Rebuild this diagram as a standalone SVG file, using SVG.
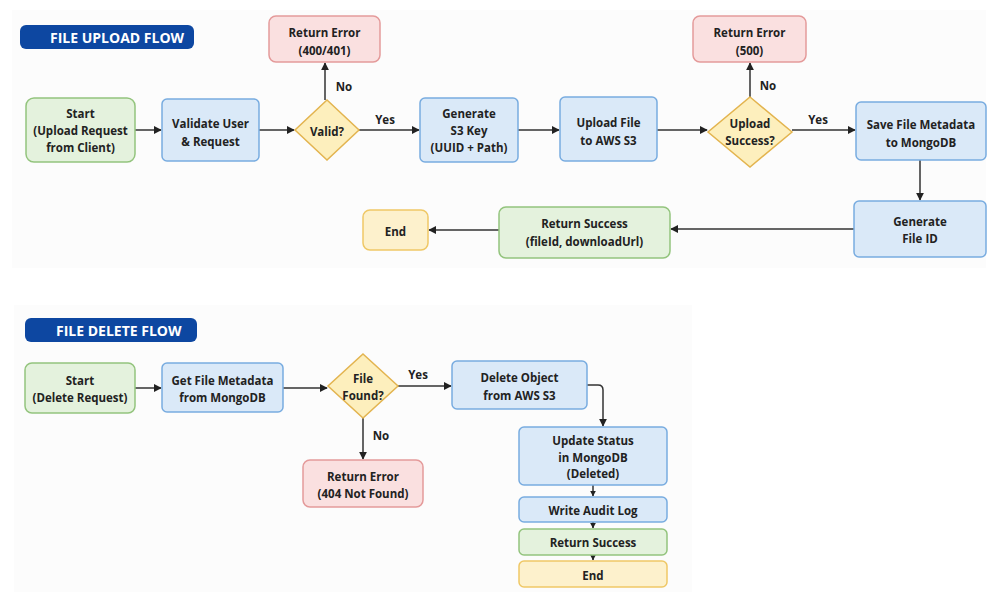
<svg xmlns="http://www.w3.org/2000/svg" width="989" height="592" viewBox="0 0 989 592">
<defs>
<marker id="ah" viewBox="0 0 10 10" refX="9" refY="5" markerWidth="8" markerHeight="8" markerUnits="userSpaceOnUse" orient="auto"><path d="M0,0 L10,5 L0,10 z" fill="#222"/></marker>
<marker id="ahs" viewBox="0 0 10 10" refX="9" refY="5" markerWidth="6" markerHeight="6" markerUnits="userSpaceOnUse" orient="auto"><path d="M0,0 L10,5 L0,10 z" fill="#222"/></marker>
</defs>
<style>
text{font-family:"Open Sans","Liberation Sans",sans-serif;font-weight:700;font-size:11.5px;fill:#222;text-anchor:middle;dominant-baseline:central}
.title{fill:#fff;font-size:14px;text-anchor:start}
.pill{fill:#0d47a1}
.green{fill:#e4f2dd;stroke:#93c47d;stroke-width:1.5}
.blue{fill:#dae9f8;stroke:#78ace0;stroke-width:1.5}
.red{fill:#fae0e0;stroke:#e49a9a;stroke-width:1.5}
.yellow{fill:#fdefbd;stroke:#e3b44f;stroke-width:1.5}
.end{fill:#fdf1cc;stroke:#efc866;stroke-width:1.5}
.lbl{font-size:11.5px}
#connectors path,#connectors line{stroke:#333;stroke-width:1.5;fill:none}
</style>
<rect width="989" height="592" fill="#fff"/>
<rect x="12" y="10" width="974" height="258" fill="#fcfcfc"/>
<rect x="14" y="305" width="678" height="287" fill="#fcfcfc"/>

<g id="title-upload"><rect class="pill" x="20" y="25" width="174" height="24" rx="6"/><text class="title" x="50" y="37.5">FILE UPLOAD FLOW</text></g>
<g id="title-delete"><rect class="pill" x="25" y="318" width="172" height="24" rx="6"/><text class="title" x="56" y="330.5">FILE DELETE FLOW</text></g>

<g id="connectors">
<line x1="135" y1="130" x2="161" y2="130" marker-end="url(#ah)"/>
<line x1="259" y1="130" x2="294" y2="130" marker-end="url(#ah)"/>
<line x1="325" y1="100" x2="325" y2="63" marker-end="url(#ah)"/>
<line x1="359" y1="130" x2="419" y2="130" marker-end="url(#ah)"/>
<line x1="518" y1="130" x2="559" y2="130" marker-end="url(#ah)"/>
<line x1="657" y1="130" x2="707" y2="130" marker-end="url(#ah)"/>
<line x1="750" y1="97" x2="750" y2="63" marker-end="url(#ah)"/>
<line x1="792" y1="130" x2="855" y2="130" marker-end="url(#ah)"/>
<line x1="920" y1="160" x2="920" y2="200" marker-end="url(#ah)"/>
<line x1="854" y1="229" x2="671" y2="229" marker-end="url(#ah)"/>
<line x1="499" y1="230" x2="429" y2="230" marker-end="url(#ah)"/>
<line x1="135" y1="388" x2="161" y2="388" marker-end="url(#ah)"/>
<line x1="283" y1="388" x2="327" y2="388" marker-end="url(#ah)"/>
<line x1="398" y1="386" x2="451" y2="386" marker-end="url(#ah)"/>
<line x1="363" y1="418" x2="363" y2="459" marker-end="url(#ah)"/>
<path d="M587,385 H598 Q603,385 603,390 V426" marker-end="url(#ah)"/>
<line x1="593" y1="485" x2="593" y2="496" marker-end="url(#ahs)"/>
<line x1="593" y1="522" x2="593" y2="528" marker-end="url(#ahs)"/>
<line x1="593" y1="555" x2="593" y2="560" marker-end="url(#ahs)"/>
<text class="lbl" x="344" y="86">No</text>
<text class="lbl" x="385" y="119">Yes</text>
<text class="lbl" x="768" y="85">No</text>
<text class="lbl" x="818" y="119">Yes</text>
<text class="lbl" x="418" y="374">Yes</text>
<text class="lbl" x="381" y="435">No</text>
</g>

<g id="start-upload"><rect class="green" x="26" y="98" width="109" height="64" rx="8"/><text x="80.5" y="113">Start</text><text x="80.5" y="130">(Upload Request</text><text x="80.5" y="147">from Client)</text></g>
<g id="validate"><rect class="blue" x="162" y="99" width="97" height="62" rx="5"/><text x="210.5" y="123">Validate User</text><text x="210.5" y="141">&amp; Request</text></g>
<g id="valid-decision"><polygon class="yellow" points="327,100 359,130 327,160 295,130"/><text x="327" y="131">Valid?</text></g>
<g id="error-400"><rect class="red" x="269" y="16" width="111" height="46" rx="7"/><text x="324.5" y="32">Return Error</text><text x="324.5" y="50">(400/401)</text></g>
<g id="gen-s3-key"><rect class="blue" x="420" y="98" width="98" height="64" rx="5"/><text x="469" y="113">Generate</text><text x="469" y="130">S3 Key</text><text x="469" y="147">(UUID + Path)</text></g>
<g id="upload-s3"><rect class="blue" x="560" y="97" width="97" height="64" rx="5"/><text x="608.5" y="122">Upload File</text><text x="608.5" y="140">to AWS S3</text></g>
<g id="upload-decision"><polygon class="yellow" points="750,97 792,132 750,167 708,132"/><text x="750" y="123">Upload</text><text x="750" y="140">Success?</text></g>
<g id="error-500"><rect class="red" x="693" y="16" width="113" height="46" rx="7"/><text x="749.5" y="32">Return Error</text><text x="749.5" y="50">(500)</text></g>
<g id="save-meta"><rect class="blue" x="856" y="102" width="130" height="58" rx="5"/><text x="921" y="124">Save File Metadata</text><text x="921" y="142">to MongoDB</text></g>
<g id="gen-file-id"><rect class="blue" x="854" y="201" width="132" height="56" rx="5"/><text x="920" y="221">Generate</text><text x="920" y="238">File ID</text></g>
<g id="return-success-upload"><rect class="green" x="499" y="207" width="171" height="51" rx="7"/><text x="584.5" y="223">Return Success</text><text x="584.5" y="241">(fileId, downloadUrl)</text></g>
<g id="end-upload"><rect class="end" x="363" y="210" width="65" height="40" rx="7"/><text x="395.5" y="231">End</text></g>

<g id="start-delete"><rect class="green" x="25" y="363" width="110" height="50" rx="7"/><text x="80" y="380">Start</text><text x="80" y="397">(Delete Request)</text></g>
<g id="get-meta"><rect class="blue" x="162" y="363" width="121" height="49" rx="5"/><text x="222.5" y="380">Get File Metadata</text><text x="222.5" y="397">from MongoDB</text></g>
<g id="found-decision"><polygon class="yellow" points="363,354 398,386 363,418 328,386"/><text x="363" y="378">File</text><text x="363" y="395">Found?</text></g>
<g id="error-404"><rect class="red" x="303" y="460" width="120" height="47" rx="7"/><text x="363" y="476">Return Error</text><text x="363" y="493">(404 Not Found)</text></g>
<g id="delete-s3"><rect class="blue" x="452" y="361" width="135" height="48" rx="5"/><text x="519.5" y="377">Delete Object</text><text x="519.5" y="395">from AWS S3</text></g>
<g id="update-status"><rect class="blue" x="519" y="427" width="148" height="58" rx="5"/><text x="593" y="440">Update Status</text><text x="593" y="457">in MongoDB</text><text x="593" y="473">(Deleted)</text></g>
<g id="audit-log"><rect class="blue" x="519" y="497" width="148" height="25" rx="5"/><text x="593" y="510">Write Audit Log</text></g>
<g id="return-success-delete"><rect class="green" x="519" y="529" width="148" height="26" rx="5"/><text x="593" y="542">Return Success</text></g>
<g id="end-delete"><rect class="end" x="519" y="561" width="148" height="26" rx="5"/><text x="593" y="575">End</text></g>
</svg>
